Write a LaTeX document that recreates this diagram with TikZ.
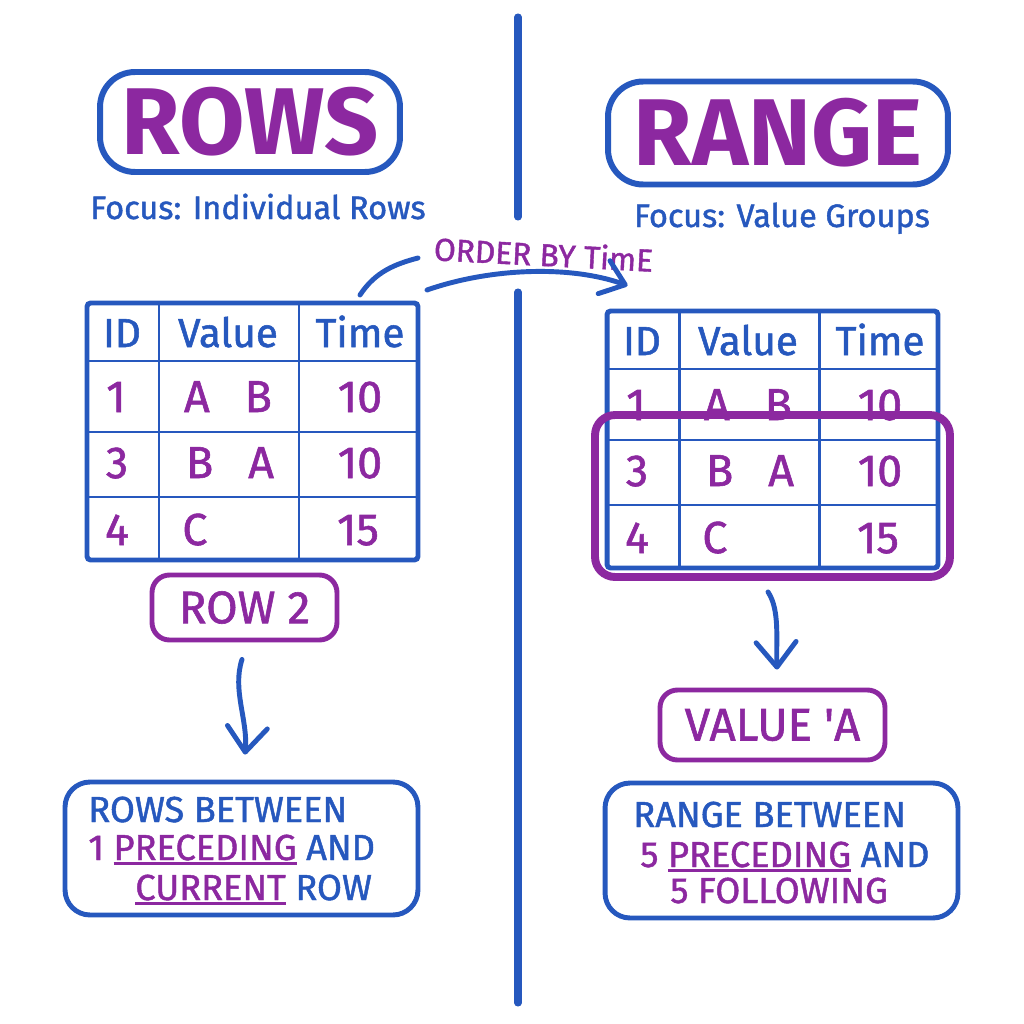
\documentclass[tikz,border=0pt]{standalone}
\usepackage{fontspec}
\setmainfont{Fira Sans}
\newfontfamily\penfont{Fira Sans}[FakeBold=1.3]
\usetikzlibrary{arrows.meta,positioning,calc}
\definecolor{penblue}{HTML}{2658BE}
\definecolor{penpurple}{HTML}{8C28A0}
\newsavebox\ulbox
\newcommand\ulword[1]{\sbox\ulbox{#1}\rlap{\rule[-3pt]{\wd\ulbox}{1.6pt}}\usebox\ulbox}

\begin{document}
\begin{tikzpicture}[
    x=0.02cm,y=-0.02cm,
    title/.style={draw=penblue,line width=3.4pt,rounded corners=0.7cm,
                  text=penpurple,font=\bfseries\fontsize{54}{54}\selectfont},
    focus/.style={anchor=base,text=penblue,font=\penfont\fontsize{18.5}{18.5}\selectfont},
    tabbox/.style={draw=penblue,line width=2.8pt,rounded corners=2pt},
    tabgrid/.style={penblue,line width=1.7pt},
    head/.style={anchor=base,text=penblue,font=\penfont\fontsize{23}{23}\selectfont},
    cell/.style={anchor=base,text=penpurple,font=\penfont\fontsize{25.5}{25.5}\selectfont},
    tag/.style={draw=penpurple,line width=2.8pt,rounded corners=0.35cm,
                text=penpurple,font=\penfont\fontsize{26}{26}\selectfont},
    result/.style={draw=penblue,line width=2.8pt,rounded corners=0.5cm},
    line/.style={anchor=base west,inner sep=0pt,text=penpurple,
                 font=\penfont\fontsize{20.6}{20.6}\selectfont},
    arr/.style={-{Straight Barb[length=0.5cm,width=0.8cm,round]},penblue,
                line width=2.8pt,line cap=round},
    divider/.style={penblue,line width=4pt,line cap=round}
  ]
    \fill[white] (0,0) rectangle (1024,1024);
    \useasboundingbox (0,0) rectangle (1024,1024);

    % centre line
    \draw[divider] (518,17) -- (518,217);
    \draw[divider] (518,292) -- (518,1003);

    % headings
    \node[title,minimum width=6cm,minimum height=2cm] (rowsT) at (250,122) {ROWS};
    \node[title,minimum width=6.8cm,minimum height=2.06cm] (rangeT) at (778,133) {RANGE};
    \node[focus] (rowsF) at (258,219) {Focus: Individual Rows};
    \node[focus] (rangeF) at (782,227) {Focus: Value Groups};

    % the two tables
    \foreach \side/\dx/\dy in {L/0/0,R/520/8}{
      \begin{scope}[shift={(\dx,\dy)}]
        \draw[tabgrid] (159,303) -- (159,560);
        \draw[tabgrid] (299,303) -- (299,560);
        \draw[tabgrid] (87,361) -- (418,361);
        \draw[tabgrid] (87,432) -- (418,432);
        \draw[tabgrid] (87,497) -- (418,497);
        \node[tabbox,minimum width=6.62cm,minimum height=5.14cm] (\side-tab) at (252.5,431.5) {};
        \node[head] (\side-hid) at (122,347) {ID};
        \node[head] (\side-hval) at (228,347) {Value};
        \node[head] (\side-htime) at (360,347) {Time};
        \node[cell] (\side-id1) at (116,412) {1};
        \node[cell] (\side-val1) at (228,412) {A\hspace{0.7cm}B};
        \node[cell] (\side-time1) at (360,412) {10};
        \node[cell] (\side-id2) at (117,478) {3};
        \node[cell] (\side-val2) at (230,478) {B\hspace{0.7cm}A};
        \node[cell] (\side-time2) at (360,478) {10};
        \node[cell] (\side-id3) at (117,545) {4};
        \node[cell,anchor=base west,inner sep=0pt] (\side-val3) at (182,545) {C};
        \node[cell] (\side-time3) at (358,545) {15};
      \end{scope}
    }

    % ordering arrow
    \node[anchor=base,rotate=-3,text=penpurple,font=\penfont\fontsize{18}{18}\selectfont]
      (ord) at (543,266) {ORDER BY TimE};
    \coordinate (ordA) at (360,295);
    \coordinate (ordB) at (418,258);
    \coordinate (ordC) at (427,290);
    \draw[penblue,line width=2.8pt,line cap=round]
      (ordA) .. controls (375,272) and (395,264) .. (ordB);
    \draw[arr,-{Straight Barb[length=0.45cm,width=0.7cm,round]}]
      (ordC) .. controls (490,268) and (570,265) .. ([xshift=0.46cm,yshift=0.46cm]R-tab.north west);

    % highlighted value group
    \node[draw=penpurple,line width=4.5pt,rounded corners=0.4cm,
          minimum width=7.1cm,minimum height=3.24cm] (grp) at (772.5,496) {};

    % left branch
    \node[tag,minimum width=3.7cm,minimum height=1.3cm] (row2) at (244.5,607.5) {ROW 2};
    \node[result,minimum width=7.06cm,minimum height=2.66cm] (botL) at (241.5,848.5) {};
    \node[line,text=penblue] (botL1) at (88,822) {ROWS BETWEEN};
    \node[line] (botL2) at (88,860) {1 \ulword{PRECEDING} \textcolor{penblue}{AND}};
    \node[line] (botL3) at (135,900) {\ulword{CURRENT} \textcolor{penblue}{ROW}};
    \draw[arr] ([xshift=-0.05cm,yshift=-0.34cm]row2.south)
      .. controls (232,690) and (248,720) .. ([xshift=0.07cm,yshift=0.5cm]botL.north);

    % right branch
    \node[tag,minimum width=4.5cm,minimum height=1.4cm] (valA) at (772.5,725) {VALUE \textquotesingle A};
    \node[result,minimum width=7.06cm,minimum height=2.7cm] (botR) at (781.5,850.5) {};
    \node[line,text=penblue] (botR1) at (633,827) {RANGE BETWEEN};
    \node[line] (botR2) at (640,867) {5 \ulword{PRECEDING} \textcolor{penblue}{AND}};
    \node[line] (botR3) at (670,903) {5 FOLLOWING};
    \draw[arr] ([xshift=-0.09cm,yshift=-0.22cm]grp.south)
      .. controls (780,610) and (776,640) .. ([xshift=0.09cm,yshift=0.36cm]valA.north);
  \end{tikzpicture}
\end{document}
